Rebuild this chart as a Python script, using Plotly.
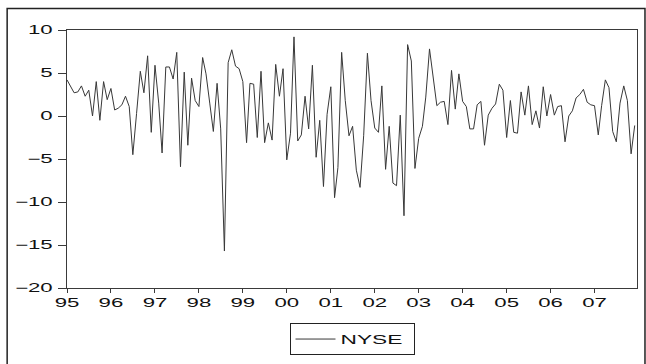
import pandas as pd
import plotly.graph_objects as go

# Monthly NYSE returns (%), Jan 1995 - Dec 2007
start_month = "1995-01-01"
nyse_returns = [
    4.2, 3.4, 2.7, 2.8, 3.5, 2.3, 3.0, 0.0, 4.0, -0.5, 4.0, 1.9,
    3.2, 0.7, 0.9, 1.3, 2.3, 1.1, -4.5, 0.3, 5.2, 2.7, 7.0, -1.9,
    5.9, 1.5, -4.3, 5.7, 5.7, 4.3, 7.4, -5.9, 5.1, -3.4, 4.4, 1.8,
    1.1, 6.8, 4.9, 1.5, -1.8, 3.8, -1.5, -15.7, 6.2, 7.7, 5.8, 5.5,
    4.0, -3.1, 3.8, 3.7, -2.5, 5.2, -3.1, -0.8, -2.8, 6.0, 2.3, 5.5,
    -5.1, -2.0, 9.2, -2.9, -2.2, 2.3, -1.5, 5.9, -4.8, -0.5, -8.2, 0.2,
    3.4, -9.5, -6.0, 7.4, 1.8, -2.3, -1.2, -6.3, -8.3, -2.3, 7.3, 1.8,
    -1.4, -1.9, 3.5, -6.2, -1.2, -7.8, -8.1, 0.1, -11.6, 8.3, 6.4, -6.1,
    -2.6, -1.2, 2.2, 7.8, 4.8, 1.2, 1.6, 1.7, -1.0, 5.3, 0.8, 4.9,
    1.7, 1.1, -1.5, -1.5, 1.3, 1.7, -3.4, 0.1, 0.9, 1.4, 3.7, 3.0,
    -2.5, 1.8, -1.9, -2.0, 2.8, 0.1, 3.5, -1.0, 0.6, -1.4, 3.4, 0.0,
    2.5, 0.1, 1.1, 1.2, -3.0, 0.0, 0.6, 2.1, 2.5, 3.1, 1.6, 1.3,
    1.2, -2.2, 1.2, 4.2, 3.3, -1.8, -3.0, 1.5, 3.5, 1.8, -4.4, -1.1,
]
months = pd.date_range(start_month, periods=len(nyse_returns), freq="MS")

y_ticks = [10, 5, 0, -5, -10, -15, -20]
x_tick_years = list(range(1995, 2008))
x_tick_labels = [f"{y % 100:02d}" for y in x_tick_years]

axis_color = "#3a3a3a"
tick_font = dict(family="Liberation Sans", size=12, color="#111111")

fig = go.Figure()
fig.add_trace(go.Scatter(
    x=months, y=nyse_returns, mode="lines", name="NYSE",
    line=dict(color="#383838", width=1),
))

fig.update_layout(
    width=646, height=364,
    margin=dict(l=67, r=9, t=30, b=71),
    paper_bgcolor="white", plot_bgcolor="white",
    showlegend=True,
    legend=dict(
        x=0.5, xanchor="center", y=-0.198, yanchor="middle",
        orientation="h",
        bordercolor="#222222", borderwidth=1,
        font=dict(family="Liberation Sans", size=13, color="#111111"),
        itemwidth=40,
        entrywidth=68,
    ),
    xaxis=dict(
        type="date",
        range=["1995-01-01", "2007-12-20"],
        tickvals=[f"{y}-01-01" for y in x_tick_years],
        ticktext=x_tick_labels,
        ticks="outside", ticklen=4, tickcolor=axis_color,
        showline=True, linecolor=axis_color, linewidth=1, mirror=True,
        showgrid=False, zeroline=False,
        tickfont=tick_font,
    ),
    yaxis=dict(
        range=[-20, 10],
        tickvals=y_ticks,
        ticks="outside", ticklen=8, tickcolor=axis_color,
        showline=True, linecolor=axis_color, linewidth=1, mirror=True,
        showgrid=False, zeroline=False,
        tickfont=tick_font,
        ticklabelstandoff=3,
    ),
    shapes=[
        # outer frame around the whole graphic
        dict(type="rect", xref="paper", yref="paper",
             x0=-0.105, x1=1.014, y0=-0.30, y1=1.0837,
             line=dict(color="#222222", width=1.5)),
    ],
)

# Widen the label glyphs horizontally (about each label's own anchor point)
stretch_js = """
var gd = document.getElementById('{plot_id}');
function widenText() {
  var groups = [['.xtick text, .ytick text', 1.85], ['.legendtext', 1.75]];
  groups.forEach(function (g) {
    gd.querySelectorAll(g[0]).forEach(function (t) {
      var cur = t.getAttribute('transform') || '';
      if (t.getAttribute('data-wide') === cur) return;
      var ax = parseFloat(t.getAttribute('x')) || 0;
      var nt = cur + ' translate(' + ax + ',0) scale(' + g[1] + ',1) translate(' + (-ax) + ',0)';
      t.setAttribute('transform', nt);
      t.setAttribute('data-wide', nt);
    });
  });
}
widenText();
gd.on('plotly_afterplot', widenText);
setTimeout(widenText, 50);
"""

fig.write_html("out.html", post_script=stretch_js)
